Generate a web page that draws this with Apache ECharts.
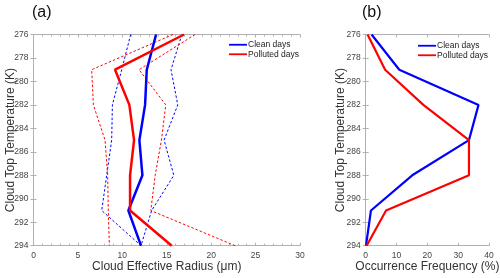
<!DOCTYPE html>
<html>
<head>
<meta charset="utf-8">
<script src="https://cdn.jsdelivr.net/npm/echarts@6/dist/echarts.min.js"></script>
<style>html,body{margin:0;padding:0;background:#fff;}#c{width:500px;height:278px;}</style>
</head>
<body>
<div id="c"></div>
<script>
var temps = [276, 279, 282, 285, 288, 291, 294];
var yTicks = [276, 278, 280, 282, 284, 286, 288, 290, 292, 294];
var cleanRe = [13.8, 12.75, 12.56, 11.92, 12.26, 10.68, 12.1];
var cleanRePlus = [16.7, 15.48, 16.24, 14.7, 15.8, 13.3, 12.1];
var cleanReMinus = [10.94, 9.93, 8.88, 8.8, 8.24, 7.68, 12.1];
var pollRe = [16.95, 9.18, 10.79, 11.32, 10.87, 10.87, 15.56];
var pollRePlus = [18.19, 11.88, 14.89, 14.4, 13.7, 13.2, 22.7];
var pollReMinus = [15.7, 6.55, 6.74, 8.05, 8.35, 8.42, 8.54];
var cleanFreq = [1.9, 10.9, 36.6, 33.5, 15.1, 1.7, 0.1];
var pollFreq = [0.6, 6.3, 18.7, 33.5, 33.5, 6.6, 0.3];

function pairs(xs) { return xs.map(function (v, i) { return [v, temps[i]]; }); }

var BLUE = '#0000ff', RED = '#ff0000';
var FONT = 'Liberation Sans';
var axisGray = '#b0b0b0';
var labelGray = '#444';

function xAxisPair(grid, max, interval, minor, name) {
  var base = {
    gridIndex: grid, type: 'value', min: 0, max: max, interval: interval,
    axisLine: { show: true, lineStyle: { color: axisGray, width: 1 } },
    axisTick: { show: true, inside: true, length: 3, lineStyle: { color: axisGray } },
    minorTick: { show: minor, splitNumber: 5, length: 2, lineStyle: { color: axisGray } },
    splitLine: { show: false }
  };
  var bottom = Object.assign({}, base, {
    position: 'bottom',
    axisLabel: { show: true, fontFamily: FONT, fontSize: 8.5, color: labelGray, margin: 5 },
    name: name, nameLocation: 'middle', nameGap: 15, nameMoveOverlap: false,
    nameTextStyle: { fontFamily: FONT, fontSize: 12, color: '#333' }
  });
  var top = Object.assign({}, base, { position: 'top', axisLabel: { show: false } });
  return [bottom, top];
}

function yAxisPair(grid, gap) {
  var base = {
    gridIndex: grid, type: 'value', min: 276, max: 294, interval: 2, inverse: true,
    axisLine: { show: true, lineStyle: { color: axisGray, width: 1 } },
    axisTick: { show: true, inside: true, length: 3, lineStyle: { color: axisGray } },
    splitLine: { show: false }
  };
  var left = Object.assign({}, base, {
    position: 'left',
    axisLabel: { show: true, fontFamily: FONT, fontSize: 8.5, color: labelGray, margin: 5,
      formatter: function (v) { return yTicks.indexOf(v) >= 0 ? String(v) : ''; } },
    name: 'Cloud Top Temperature (K)', nameLocation: 'middle', nameGap: gap, nameMoveOverlap: false,
    nameTextStyle: { fontFamily: FONT, fontSize: 12, color: '#333' }
  });
  var right = Object.assign({}, base, { position: 'right', axisLabel: { show: false } });
  return [left, right];
}

var xa = xAxisPair(0, 30, 5, true, 'Cloud Effective Radius (\u03bcm)');
var xb = xAxisPair(1, 40, 10, false, 'Occurrence Frequency (%)');
var ya = yAxisPair(0, 17);
var yb = yAxisPair(1, 19);

function line(name, data, color, width, dashed, xi, yi, z) {
  return {
    name: name, type: 'line', data: pairs(data), xAxisIndex: xi, yAxisIndex: yi,
    showSymbol: false, symbol: 'none', silent: true, animation: false, z: z,
    lineStyle: { color: color, width: width, type: dashed ? [2.5, 2] : 'solid' },
    itemStyle: { color: color }
  };
}

var legendIcon = 'path://M0,0L10,0L10,1L0,1Z';
function legendAt(left, top, names) {
  return {
    show: true, orient: 'vertical', left: left, top: top, itemGap: 0,
    itemWidth: 18, itemHeight: 2.5, icon: legendIcon,
    data: names, selectedMode: false,
    textStyle: { fontFamily: FONT, fontSize: 8.5, color: '#222', padding: [0, 0, 0, -4], lineHeight: 9.5 },
    padding: 0
  };
}

var option = {
  animation: false,
  backgroundColor: '#fff',
  title: [
    { text: '(a)', left: 32, top: 5, padding: 0, textStyle: { fontFamily: FONT, fontSize: 16, fontWeight: 'normal', color: '#111' } },
    { text: '(b)', left: 362, top: 5, padding: 0, textStyle: { fontFamily: FONT, fontSize: 16, fontWeight: 'normal', color: '#111' } }
  ],
  grid: [
    { left: 33.5, top: 34.5, width: 266.5, height: 211.2, show: false, containLabel: false, outerBoundsMode: 'none' },
    { left: 365.7, top: 34.5, width: 123.3, height: 211.2, show: false, containLabel: false, outerBoundsMode: 'none' }
  ],
  xAxis: [xa[0], xa[1], xb[0], xb[1]],
  yAxis: [ya[0], ya[1], yb[0], yb[1]],
  legend: [
    legendAt(229, 40, ['Clean days', 'Polluted days']),
    legendAt(418, 41, ['Clean days ', 'Polluted days '])
  ],
  series: [
    line('clean+', cleanRePlus, BLUE, 1, true, 0, 0, 2),
    line('clean-', cleanReMinus, BLUE, 1, true, 0, 0, 2),
    line('poll+', pollRePlus, RED, 1, true, 0, 0, 2),
    line('poll-', pollReMinus, RED, 1, true, 0, 0, 2),
    line('Clean days', cleanRe, BLUE, 2.5, false, 0, 0, 3),
    line('Polluted days', pollRe, RED, 2.5, false, 0, 0, 4),
    line('Clean days ', cleanFreq, BLUE, 2.2, false, 2, 2, 3),
    line('Polluted days ', pollFreq, RED, 2.2, false, 2, 2, 4)
  ]
};
var chart = echarts.init(document.getElementById('c'), null, { renderer: 'canvas' });
chart.setOption(option);
</script>
</body>
</html>
